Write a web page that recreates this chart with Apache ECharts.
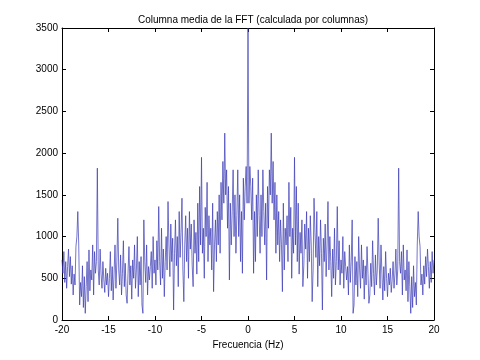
<!DOCTYPE html>
<html>
<head>
<meta charset="utf-8">
<script src="https://cdn.jsdelivr.net/npm/echarts@6/dist/echarts.min.js"></script>
<style>html,body{margin:0;padding:0;background:#fff;}#c{width:480px;height:360px;}</style>
</head>
<body>
<div id="c"></div>
<script>
// Chart text
const titleText = 'Columna media de la FFT (calculada por columnas)';
const xAxisName = 'Frecuencia (Hz)';
const xTicks = [-20, -15, -10, -5, 0, 5, 10, 15, 20];
const yTicks = [0, 500, 1000, 1500, 2000, 2500, 3000, 3500];

// Frequency sampling: 0.1 Hz from -20 to 20
const freqStart = -20;
const freqStep = 0.1;

// Magnitude values, left half (-20.0 .. -0.1 Hz), one row per Hz
const magLeft = [
  720, 560, 820, 450, 700, 380, 640, 850, 520, 760,
  430, 650, 300, 550, 420, 880, 1000, 1300, 900, 180,
  450, 280, 650, 150, 520, 80, 400, 700, 220, 840,
  350, 600, 480, 900, 300, 820, 560, 700, 1820, 600,
  420, 850, 550, 380, 700, 480, 330, 620, 420, 560,
  280, 500, 820, 350, 640, 240, 560, 900, 380, 700,
  1220, 600, 420, 780, 300, 560, 950, 400, 680, 300,
  200, 560, 880, 420, 650, 250, 720, 500, 900, 380,
  600, 1000, 280, 700, 420, 760, 180, 80, 1200, 700,
  450, 900, 300, 640, 480, 640, 820, 380, 1000, 560,
  720, 420, 950, 600, 1360, 700, 420, 1100, 500, 850,
  280, 700, 1000, 600, 1420, 900, 520, 1150, 700, 980,
  120, 800, 1200, 650, 1000, 400, 1300, 750, 1050, 1460,
  600, 220, 900, 1250, 700, 1100, 500, 1300, 850, 1150,
  650, 400, 1200, 800, 1050, 550, 1400, 700, 1600, 900,
  1950, 800, 1100, 500, 1350, 1000, 1650, 700, 1250, 900,
  1100, 600, 1400, 340, 900, 1200, 700, 1300, 900, 1500,
  800, 1650, 1200, 1900, 1400, 2240, 1500, 1800, 1100, 1600,
  480, 1400, 900, 1300, 1800, 1000, 1500, 800, 1250, 1800,
  1000, 1500, 700, 1300, 560, 1700, 1200, 1600, 1840, 1400
];
// Value at 0 Hz
const magCenter = [3500];
// Magnitude values, right half (0.1 .. 20.0 Hz)
const magRight = [
  1400, 1840, 1600, 1200, 1700, 560, 1300, 700, 1500, 1000,
  1800, 1250, 800, 1500, 1000, 1800, 1300, 900, 1400, 480,
  1600, 1100, 1800, 1500, 2240, 1400, 1900, 1200, 1650, 800,
  1500, 900, 1300, 700, 1200, 900, 340, 1400, 600, 1100,
  900, 1250, 700, 1650, 1000, 1350, 500, 1100, 800, 1950,
  900, 1600, 700, 1400, 550, 1050, 800, 1200, 400, 650,
  1150, 850, 1300, 500, 1100, 700, 1250, 900, 220, 600,
  1460, 1050, 750, 1300, 400, 1000, 650, 1200, 800, 120,
  980, 700, 1150, 520, 900, 1420, 600, 1000, 700, 280,
  850, 500, 1100, 420, 700, 1360, 600, 950, 420, 720,
  560, 1000, 380, 820, 640, 480, 640, 300, 900, 450,
  700, 1200, 80, 180, 760, 420, 700, 280, 1000, 600,
  380, 900, 500, 720, 250, 650, 420, 880, 560, 200,
  300, 680, 400, 950, 560, 300, 780, 420, 600, 1220,
  700, 380, 900, 560, 240, 640, 350, 820, 500, 280,
  560, 420, 620, 330, 480, 700, 380, 550, 850, 420,
  600, 1820, 700, 560, 820, 300, 900, 480, 600, 350,
  840, 220, 700, 400, 80, 520, 150, 650, 280, 450,
  180, 900, 1300, 1000, 880, 420, 550, 300, 650, 430,
  760, 520, 850, 640, 380, 700, 450, 820, 560, 720
];

const mags = magLeft.concat(magCenter, magRight);
const seriesData = mags.map((v, i) => [+(freqStart + i * freqStep).toFixed(1), v]);

const font = 'Liberation Sans, Arial, sans-serif';
const axisLineStyle = { color: '#000', width: 1 };
const plain = v => String(v);
const chart = echarts.init(document.getElementById('c'), null, { renderer: 'canvas' });
chart.setOption({
  animation: false,
  backgroundColor: '#fff',
  title: {
    text: titleText, left: 248, top: 10, textAlign: 'center',
    textStyle: { fontFamily: font, fontSize: 10, fontWeight: 'normal', color: '#000' }
  },
  grid: { left: 62, right: 46, top: 28, bottom: 40, containLabel: false },
  xAxis: [{
    type: 'value', min: xTicks[0], max: xTicks[xTicks.length - 1], interval: 5,
    position: 'bottom',
    name: xAxisName, nameLocation: 'middle', nameGap: 18,
    nameTextStyle: { fontFamily: font, fontSize: 10, color: '#000' },
    axisLine: { show: true, onZero: false, lineStyle: axisLineStyle },
    axisTick: { show: true, inside: true, length: 4, lineStyle: axisLineStyle },
    axisLabel: { fontFamily: font, fontSize: 10, color: '#000', margin: 5, formatter: plain },
    splitLine: { show: false }
  }, {
    type: 'value', min: xTicks[0], max: xTicks[xTicks.length - 1], interval: 5,
    position: 'top',
    axisLine: { show: true, onZero: false, lineStyle: axisLineStyle },
    axisTick: { show: true, inside: true, length: 4, lineStyle: axisLineStyle },
    axisLabel: { show: false },
    splitLine: { show: false }
  }],
  yAxis: [{
    type: 'value', min: yTicks[0], max: yTicks[yTicks.length - 1], interval: 500,
    position: 'left',
    axisLine: { show: true, onZero: false, lineStyle: axisLineStyle },
    axisTick: { show: true, inside: true, length: 4, lineStyle: axisLineStyle },
    axisLabel: { fontFamily: font, fontSize: 10, color: '#000', margin: 4, formatter: plain },
    splitLine: { show: false }
  }, {
    type: 'value', min: yTicks[0], max: yTicks[yTicks.length - 1], interval: 500,
    position: 'right',
    axisLine: { show: true, onZero: false, lineStyle: axisLineStyle },
    axisTick: { show: true, inside: true, length: 4, lineStyle: axisLineStyle },
    axisLabel: { show: false },
    splitLine: { show: false }
  }],
  series: [{
    type: 'line', xAxisIndex: 0, yAxisIndex: 0,
    data: seriesData, showSymbol: false, symbol: 'none',
    lineStyle: { color: '#3a3ab4', width: 0.7 },
    clip: true
  }]
});
</script>
</body>
</html>
